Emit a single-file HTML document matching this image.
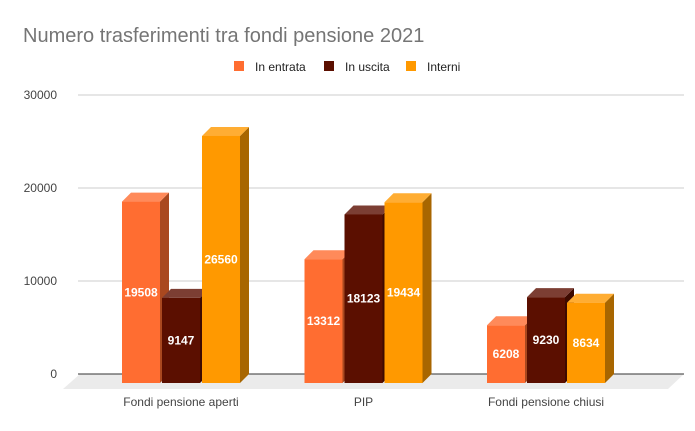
<!DOCTYPE html>
<html><head><meta charset="utf-8"><style>
body{margin:0;background:#fff;}
svg{display:block;font-family:"Liberation Sans",Arial,sans-serif;}
</style></head><body>
<svg id="chart" width="695" height="431" viewBox="0 0 695 431">
<rect width="695" height="431" fill="#fff"/>
<text x="23" y="42" font-size="20" fill="#757575">Numero trasferimenti tra fondi pensione 2021</text>
<g>
<rect x="234" y="61" width="10" height="10" fill="#ff6d31"/>
<text x="255" y="71" font-size="12" fill="#222">In entrata</text>
<rect x="324" y="61" width="10" height="10" fill="#5b0f00"/>
<text x="345" y="71" font-size="12" fill="#222">In uscita</text>
<rect x="406" y="61" width="10" height="10" fill="#ff9900"/>
<text x="427" y="71" font-size="12" fill="#222">Interni</text>
</g>
<g id="grid"></g>
<polygon points="80,374 684,374 668,389 63,389" fill="#ebebeb"/>
<line x1="78" y1="374" x2="684" y2="374" stroke="#333" stroke-width="1"/>
<g id="bars"></g>
</svg>
<script>
const categories=["Fondi pensione aperti","PIP","Fondi pensione chiusi"];
const inEntrata=[19508,13312,6208];
const inUscita=[9147,18123,9230];
const interni=[26560,19434,8634];
const yTicks=[0,10000,20000,30000];
const seriesNames=["in-entrata","in-uscita","interni"];
const NS="http://www.w3.org/2000/svg";
const svg=document.getElementById('chart');
const grid=document.getElementById('grid');
const barsG=document.getElementById('bars');
function yBack(v){return 374-v*0.0093;}
function yFront(v){return 383-v*0.0093;}
function xGroup(i){return 122+i*182.5;}
const D=9,W=38,STEP=40;
const cols=[["#ff6d31","#ff8a5a","#a9481f"],["#5b0f00","#7c3e33","#3d0a00"],["#ff9900","#ffad33","#a86600"]];
function mk(tag,attrs){const e=document.createElementNS(NS,tag);for(const k in attrs)e.setAttribute(k,attrs[k]);return e;}
yTicks.forEach(t=>{
  const y=yBack(t);
  if(t>0){const l=mk('line',{x1:78,x2:684,y1:y,y2:y,stroke:'#cccccc'});
  
  
  grid.appendChild(l);}
  const tx=mk('text',{x:57,y:y+4,'font-size':12,fill:'#444','text-anchor':'end'});
  tx.textContent=String(t);
  
  
  grid.appendChild(tx);
});
const series=[inEntrata,inUscita,interni];
categories.forEach((c,i)=>{
  const g0=xGroup(i);
  series.forEach((s,j)=>{
    const v=s[i];const x=g0+j*STEP;const yt=yFront(v);const yb=383;
    const g=mk('g',{});
    
    
    g.appendChild(mk('polygon',{points:`${x+W},${yt} ${x+W+D},${yt-D} ${x+W+D},${yb-D} ${x+W},${yb}`,fill:cols[j][2]}));
    g.appendChild(mk('polygon',{points:`${x},${yt} ${x+D},${yt-D} ${x+W+D},${yt-D} ${x+W},${yt}`,fill:cols[j][1]}));
    g.appendChild(mk('rect',{x:x,y:yt,width:W,height:yb-yt,fill:cols[j][0]}));
    const t=mk('text',{x:x+W/2,y:(yt+yb)/2+4,'font-size':12,'font-weight':'bold',fill:'#fff','text-anchor':'middle'});
    t.textContent=String(v);
    g.appendChild(t);
    barsG.appendChild(g);
  });
  const lab=mk('text',{x:g0+59,y:406,'font-size':12,fill:'#444','text-anchor':'middle'});
  lab.textContent=c;
  
  
  barsG.appendChild(lab);
});
</script>
</body></html>
